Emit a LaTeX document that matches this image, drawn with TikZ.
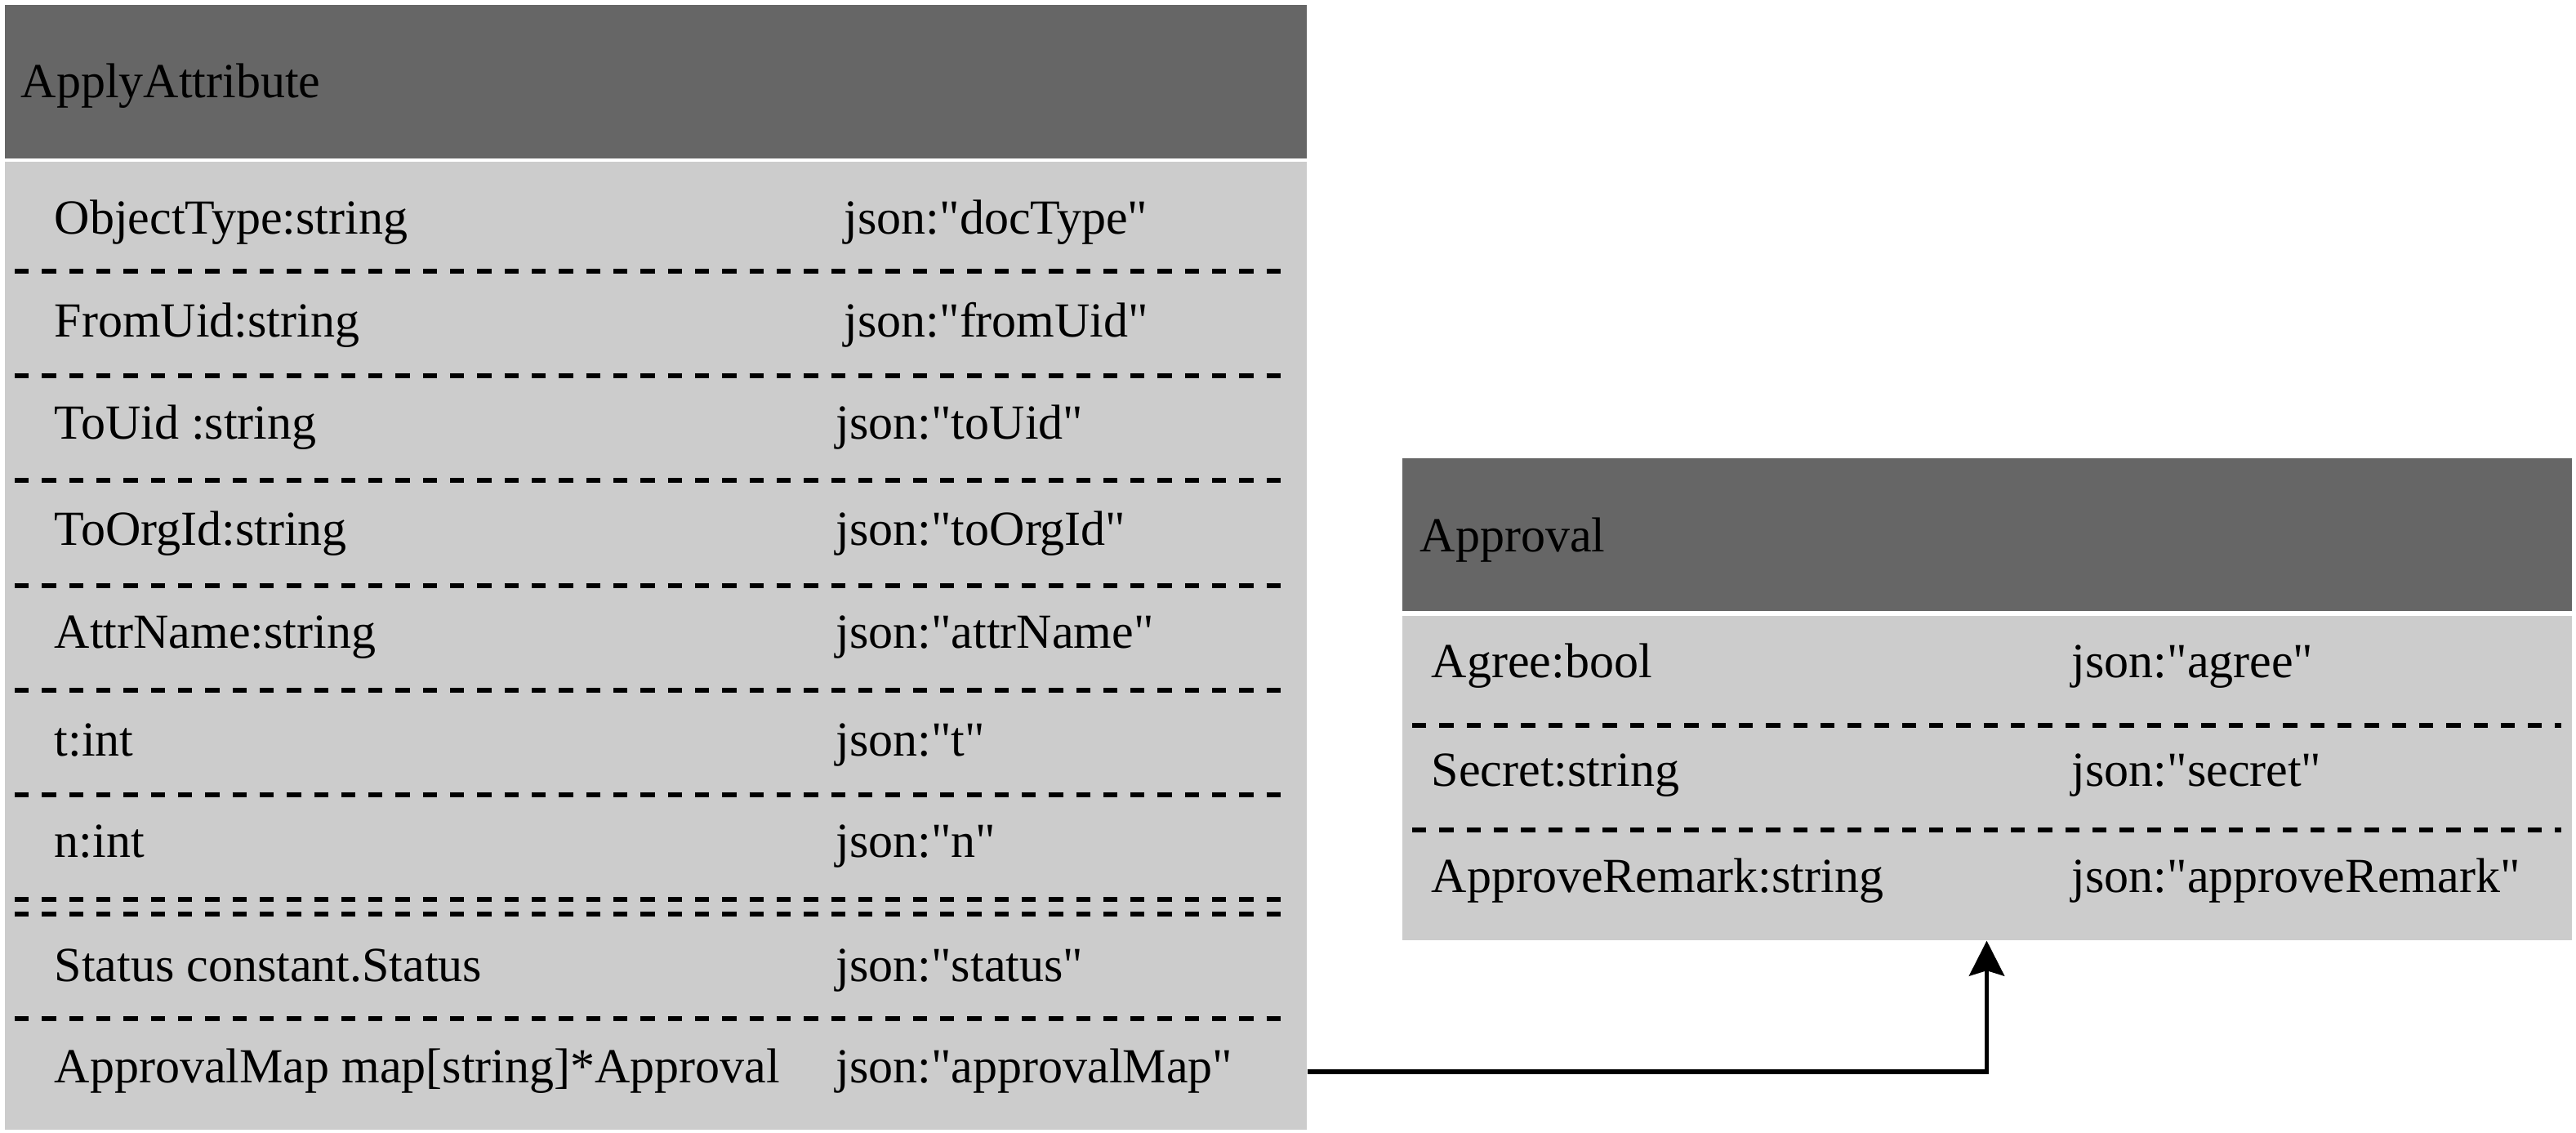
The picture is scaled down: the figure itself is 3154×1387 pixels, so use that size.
\documentclass[tikz,border=0pt]{standalone}
\usepackage{fontspec}
\setmainfont{Liberation Serif}[Ligatures=TeXOff]
\usetikzlibrary{arrows.meta}
\definecolor{hdrgray}{HTML}{666666}
\definecolor{bodygray}{HTML}{CCCCCC}
\tikzset{
  hdrbox/.style={fill=hdrgray, draw=none, inner sep=0pt, anchor=north west},
  bodybox/.style={fill=bodygray, draw=none, inner sep=0pt, anchor=north west},
  txt/.style={inner sep=0pt, anchor=base west, font=\fontsize{15}{18}\selectfont},
  sepline/.style={line width=1.3pt, dash pattern=on 4.33pt off 4pt},
  conn/.style={line width=1.4pt, -{Stealth[length=10.75pt,width=10.75pt,inset=1.6pt]}}
}
\begin{document}
\begin{tikzpicture}[x=0.25pt,y=-0.25pt]
\fill[white] (0,0) rectangle (3154,1387);
\useasboundingbox (0,0) rectangle (3154,1387);
% ApplyAttribute box
\node[hdrbox, minimum width=398.5pt, minimum height=47pt] (aaHdr) at (5,5) {};
\node[bodybox, minimum width=398.5pt, minimum height=296.25pt] (aaBody) at (5,197) {};
\node[txt] (aaTitle) at (25,120) {ApplyAttribute};
% rows
\node[txt] (l1) at (66,287) {ObjectType:string};
\node[txt] (r1) at (1033,287) {json:"docType"};
\node[txt] (l2) at (66,413) {FromUid:string};
\node[txt] (r2) at (1033,413) {json:"fromUid"};
\node[txt] (l3) at (66,538) {ToUid :string};
\node[txt] (r3) at (1023,538) {json:"toUid"};
\node[txt] (l4) at (66,668) {ToOrgId:string};
\node[txt] (r4) at (1023,668) {json:"toOrgId"};
\node[txt] (l5) at (66,794) {AttrName:string};
\node[txt] (r5) at (1023,794) {json:"attrName"};
\node[txt] (l6) at (66,926) {t:int};
\node[txt] (r6) at (1023,926) {json:"t"};
\node[txt] (l7) at (66,1049) {n:int};
\node[txt] (r7) at (1023,1049) {json:"n"};
\node[txt] (l8) at (66,1201) {Status constant.Status};
\node[txt] (r8) at (1023,1201) {json:"status"};
\node[txt] (l9) at (66,1325) {ApprovalMap map[string]*Approval};
\node[txt] (r9) at (1023,1325) {json:"approvalMap"};
\foreach \yy in {332,460,588,717,845,973,1101,1119,1247}
  \draw[sepline] (18,\yy) -- (1570,\yy);
% Approval box
\node[hdrbox, minimum width=358pt, minimum height=46.875pt] (apHdr) at (1716,560) {};
\node[bodybox, minimum width=358pt, minimum height=99.25pt] (apBody) at (1716,753) {};
\node[txt] (apTitle) at (1738,676) {Approval};
\node[txt] (a1) at (1752,830) {Agree:bool};
\node[txt] (b1) at (2536,830) {json:"agree"};
\node[txt] (a2) at (1752,963) {Secret:string};
\node[txt] (b2) at (2536,963) {json:"secret"};
\node[txt] (a3) at (1752,1092) {ApproveRemark:string};
\node[txt] (b3) at (2536,1092) {json:"approveRemark"};
\foreach \yy in {888,1016}
  \draw[sepline] (1729,\yy) -- (3136,\yy);
% connector
\coordinate (src) at (aaBody.east |- 0,1312);
\coordinate (dst) at (apBody.south -| 2432.5,0);
\draw[conn] (src) -| (dst);
\end{tikzpicture}
\end{document}
